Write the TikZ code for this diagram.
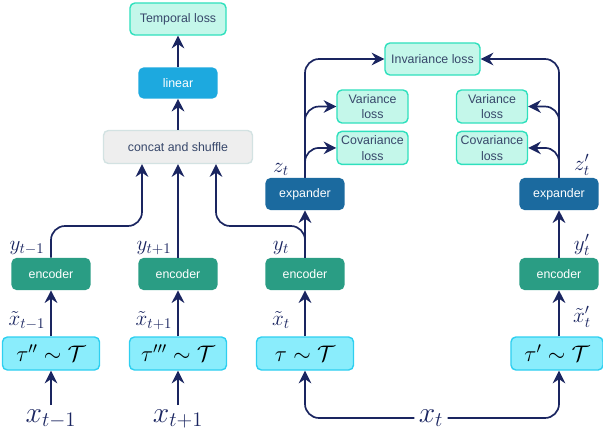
\RequirePackage{fix-cm}
\documentclass[tikz,border=0pt]{standalone}
\usepackage{fontspec}
\setsansfont{Liberation Sans}
\usepackage{xcolor}
\definecolor{lossfill}{HTML}{C4F7EA}
\definecolor{lossborder}{HTML}{2FE0BD}
\definecolor{linearblue}{HTML}{1DA9DF}
\definecolor{encgreen}{HTML}{2A9D84}
\definecolor{expblue}{HTML}{1B6A9F}
\definecolor{augfill}{HTML}{8AEDFC}
\definecolor{augborder}{HTML}{2ECFF0}
\definecolor{concatfill}{HTML}{EEEEEE}
\definecolor{concatborder}{HTML}{D3E2E2}
\definecolor{arrownavy}{HTML}{1A2560}
\definecolor{boxtext}{HTML}{37476A}
\usetikzlibrary{positioning, arrows.meta}
\tikzset{
  >={Stealth[length=9pt, width=9pt, inset=3pt]},
  every node/.style={font=\sffamily\fontsize{8.8}{11}\selectfont},
  lossbox/.style={
    rectangle, rounded corners=3.5pt, draw=lossborder, fill=lossfill,
    line width=1pt, text=boxtext, align=center,
    minimum height=0.8cm, inner sep=2pt
  },
  netbox/.style={
    rectangle, rounded corners=3.5pt, text=white, align=center,
    minimum width=1.975cm, minimum height=0.8cm, inner sep=2pt
  },
  encoder/.style={netbox, fill=encgreen},
  expander/.style={netbox, fill=expblue},
  augbox/.style={
    rectangle, rounded corners=3.5pt, draw=augborder, fill=augfill,
    line width=1pt, minimum width=2.425cm, minimum height=0.825cm,
    inner sep=2pt, font=\fontsize{16}{19}\selectfont
  },
  concatbox/.style={
    rectangle, rounded corners=3.5pt, draw=concatborder, fill=concatfill,
    line width=1pt, text=boxtext, minimum width=3.725cm,
    minimum height=0.825cm, inner sep=2pt
  },
  conn/.style={->, arrownavy, line width=1.2pt},
  varlabel/.style={font=\fontsize{15}{18}\selectfont, text=arrownavy,
    inner sep=0pt, anchor=base},
  inputlabel/.style={font=\fontsize{21}{25}\selectfont, text=arrownavy,
    inner sep=3pt}
}

\begin{document}
\begin{tikzpicture}[x=0.025cm, y=-0.025cm]
\useasboundingbox (0,0) rectangle (603,433);

% Temporal branch
\node[lossbox, minimum width=2.4cm] (temporal) at (178,19) {Temporal loss};
\node[netbox, fill=linearblue, minimum height=0.775cm] (linear) at (178,83) {linear};
\node[concatbox] (concat) at (178,147) {concat and shuffle};

% Encoders and augmentations
\node[encoder] (enc1) at (51,274) {encoder};
\node[encoder] (enc2) at (178,274) {encoder};
\node[encoder] (enc3) at (305,274) {encoder};
\node[encoder] (enc4) at (559,274) {encoder};

\node[augbox] (tau1) at (51,353.5) {$\tau'' \sim \mathcal{T}$};
\node[augbox] (tau2) at (178,353.5) {$\tau''' \sim \mathcal{T}$};
\node[augbox] (tau3) at (305,353.5) {$\tau \sim \mathcal{T}$};
\node[augbox, minimum width=2.3cm] (tau4) at (557,353.5) {$\tau' \sim \mathcal{T}$};

% Inputs
\node[inputlabel] (xm1) at (51,419) {$x_{t-1}$};
\node[inputlabel] (xp1) at (178,419) {$x_{t+1}$};
\node[inputlabel] (xt) at (431,418) {$x_t$};

% Expanders and VICReg losses
\node[expander] (exp1) at (305,194) {expander};
\node[expander] (exp2) at (559,194) {expander};

\node[lossbox, minimum width=2.375cm] (inv) at (432.5,59) {Invariance loss};
\node[lossbox, minimum width=1.775cm, minimum height=0.825cm] (var1) at (372.5,106.5) {Variance\\loss};
\node[lossbox, minimum width=1.775cm, minimum height=0.825cm, below=0.175cm of var1] (cov1) {Covariance\\loss};
\node[lossbox, minimum width=1.775cm, minimum height=0.825cm] (var2) at (492,106.5) {Variance\\loss};
\node[lossbox, minimum width=1.775cm, minimum height=0.825cm, below=0.175cm of var2] (cov2) {Covariance\\loss};

% Variable labels
\node[varlabel] (ylm1) at (27,250) {$y_{t-1}$};
\node[varlabel] (ylp1) at (154,250) {$y_{t+1}$};
\node[varlabel] (ylt) at (281,250) {$y_t$};
\node[varlabel] (ylt2) at (582,250) {$y'_t$};
\node[varlabel] (xlm1) at (27,325) {$\tilde{x}_{t-1}$};
\node[varlabel] (xlp1) at (154,325) {$\tilde{x}_{t+1}$};
\node[varlabel] (xlt) at (281,325) {$\tilde{x}_t$};
\node[varlabel] (xlt2) at (582,322) {$\tilde{x}'_t$};
\node[varlabel] (zlt) at (281,172) {$z_t$};
\node[varlabel] (zlt2) at (582,170) {$z'_t$};

% Junctions below concat
\coordinate (j1) at (142,226);
\coordinate (j3) at (216,226);

% Edges - inputs to augmentations
\draw[conn] (xm1) -- (tau1);
\draw[conn] (xp1) -- (tau2);
\draw[conn, rounded corners=10] (xt.west) -| (tau3.south);
\draw[conn, rounded corners=10] (xt.east) -| (enc4.south |- tau4.south);

% Edges - augmentations to encoders
\draw[conn] (tau1) -- (enc1);
\draw[conn] (tau2) -- (enc2);
\draw[conn] (tau3) -- (enc3);
\draw[conn] (enc4.south |- tau4.north) -- (enc4.south);

% Edges - temporal branch
\draw[conn, rounded corners=10] (enc1.north) |- (j1) -- (j1 |- concat.south);
\draw[conn] (enc2.north) -- (concat.south);
\draw[conn, rounded corners=10] (enc3.north) |- (j3) -- (j3 |- concat.south);
\draw[conn] (concat) -- (linear);
\draw[conn] (linear) -- (temporal);

% Edges - expanders
\draw[conn] (enc3) -- (exp1);
\draw[conn] (enc4) -- (exp2);
\draw[conn, rounded corners=10] (exp1.north) |- (inv.west);
\draw[conn, rounded corners=10] (exp1.north) |- (var1.west);
\draw[conn, rounded corners=10] (exp1.north) |- (cov1.west);
\draw[conn, rounded corners=10] (exp2.north) |- (inv.east);
\draw[conn, rounded corners=10] (exp2.north) |- (var2.east);
\draw[conn, rounded corners=10] (exp2.north) |- (cov2.east);

\end{tikzpicture}
\end{document}
